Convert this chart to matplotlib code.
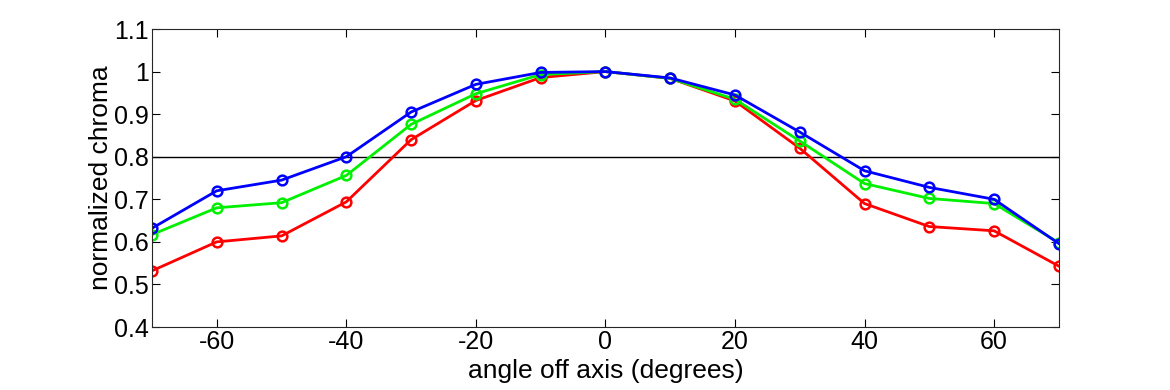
import matplotlib
matplotlib.use("Agg")
import matplotlib.pyplot as plt

angles = [-70, -60, -50, -40, -30, -20, -10, 0, 10, 20, 30, 40, 50, 60, 70]
red = [0.532, 0.600, 0.614, 0.694, 0.840, 0.932, 0.986, 1.0, 0.984, 0.931, 0.820, 0.690, 0.636, 0.626, 0.543]
green = [0.617, 0.680, 0.692, 0.756, 0.876, 0.948, 0.993, 1.0, 0.984, 0.935, 0.837, 0.737, 0.702, 0.690, 0.598]
blue = [0.632, 0.720, 0.745, 0.800, 0.905, 0.970, 0.998, 1.0, 0.985, 0.945, 0.858, 0.767, 0.728, 0.700, 0.596]
threshold = 0.8

xticks = [-60, -40, -20, 0, 20, 40, 60]
yticks = [0.4, 0.5, 0.6, 0.7, 0.8, 0.9, 1.0, 1.1]
ytick_labels = ['0.4', '0.5', '0.6', '0.7', '0.8', '0.9', '1', '1.1']

plt.rcParams['font.family'] = ['Liberation Sans', 'DejaVu Sans']

fig = plt.figure(figsize=(11.7, 3.9), dpi=100)
ax = fig.add_axes([0.1299, 0.1615, 0.7751, 0.7641])

ax.axhline(threshold, color='black', linewidth=1.0, zorder=1)
for vals, col in [(red, '#ff0000'), (green, '#00f000'), (blue, '#0000ff')]:
    ax.plot(angles, vals, color=col, linewidth=2.0, marker='o', markersize=7,
            markerfacecolor='none', markeredgewidth=1.8, zorder=2)

ax.set_xlim(-70, 70)
ax.set_ylim(0.4, 1.1)
ax.set_xticks(xticks)
ax.set_xticklabels([str(t) for t in xticks])
ax.set_yticks(yticks)
ax.set_yticklabels(ytick_labels)
ax.tick_params(direction='in', top=True, right=True, labelsize=18, length=6,
               width=0.8)
ax.tick_params(axis='x', pad=2.5)
ax.tick_params(axis='y', pad=2)
for s in ax.spines.values():
    s.set_linewidth(0.8)
    s.set_color('#262626')

ax.set_xlabel('angle off axis (degrees)', fontsize=19, labelpad=3)
ax.set_ylabel('normalized chroma', fontsize=19, labelpad=1)

fig.savefig('out.png', dpi=100)
